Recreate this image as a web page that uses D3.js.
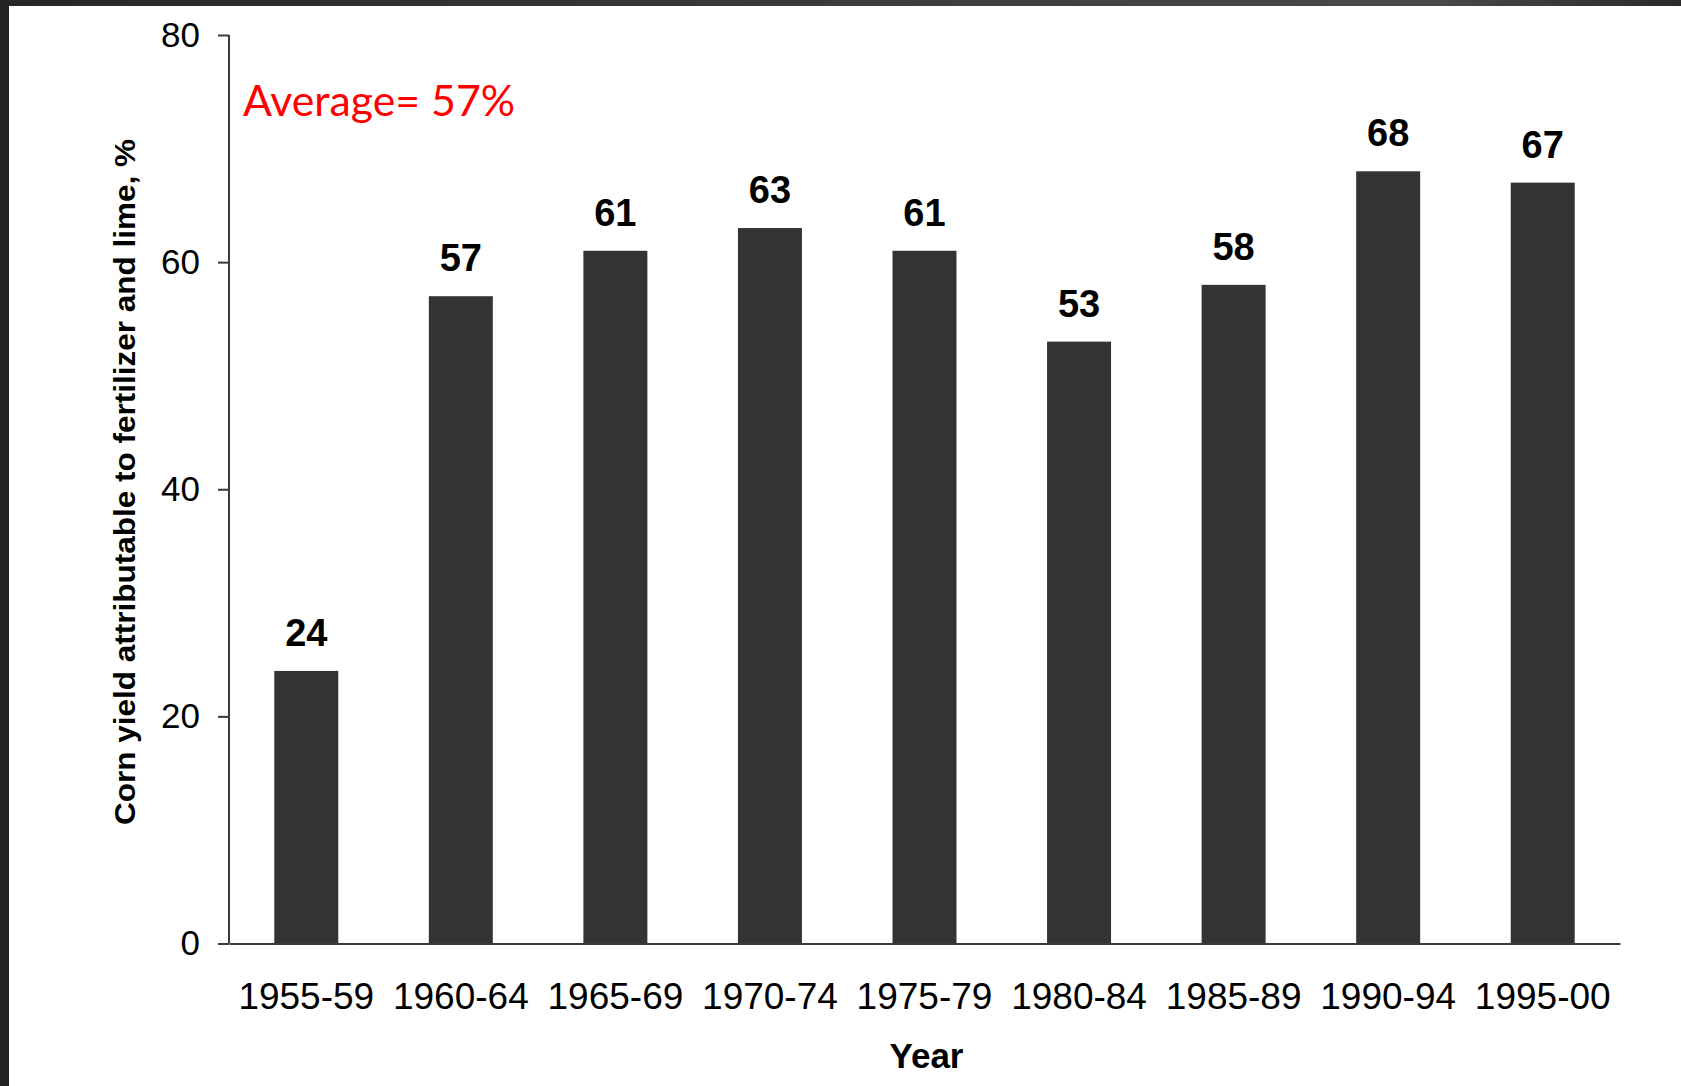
<!DOCTYPE html>
<html>
<head>
<meta charset="utf-8">
<script src="https://cdn.jsdelivr.net/npm/d3@7"></script>
<style>
  html, body { margin: 0; padding: 0; background: #fff; overflow: hidden; }
  svg { display: block; }
</style>
</head>
<body>
<svg id="chart" width="1681" height="1086"></svg>
<script>
// Corn yield share attributable to fertilizer and lime, by five-year period
const periods = ["1955-59", "1960-64", "1965-69", "1970-74", "1975-79", "1980-84", "1985-89", "1990-94", "1995-00"];
const shares = [24, 57, 61, 63, 61, 53, 58, 68, 67];
const yTicks = [0, 20, 40, 60, 80];
const averageNote = "Average= 57%";
const yTitle = "Corn yield attributable to fertilizer and lime, %";
const xTitle = "Year";

const W = 1681, H = 1086;
const plot = { left: 229, right: 1620, top: 35, bottom: 943.5 };

const svg = d3.select("#chart");

// slide frame: dark strip along the top and left edges
const defs = svg.append("defs");
const grad = defs.append("linearGradient").attr("id", "topStrip")
  .attr("x1", "0").attr("x2", "1").attr("y1", "0").attr("y2", "0");
grad.append("stop").attr("offset", "0").attr("stop-color", "#262626");
grad.append("stop").attr("offset", "0.85").attr("stop-color", "#4a4a4a");
grad.append("stop").attr("offset", "1").attr("stop-color", "#2a2a2a");
svg.append("rect").attr("x", 0).attr("y", 0).attr("width", W).attr("height", 6).attr("fill", "url(#topStrip)");
svg.append("rect").attr("x", 0).attr("y", 0).attr("width", 9).attr("height", H).attr("fill", "#232323");

const x = d3.scaleBand()
  .domain(periods)
  .range([plot.left, plot.right])
  .paddingInner(0.586)
  .paddingOuter(0.293);

const y = d3.scaleLinear()
  .domain([0, 80])
  .range([plot.bottom, plot.top]);

// bars
svg.append("g")
  .selectAll("rect")
  .data(periods)
  .join("rect")
  .attr("x", d => x(d))
  .attr("y", (d, i) => y(shares[i]))
  .attr("width", x.bandwidth())
  .attr("height", (d, i) => y(0) - y(shares[i]))
  .attr("fill", "#333333");

// value labels above bars
svg.append("g")
  .selectAll("text")
  .data(periods)
  .join("text")
  .attr("x", d => x(d) + x.bandwidth() / 2)
  .attr("y", (d, i) => y(shares[i]) - 25)
  .attr("text-anchor", "middle")
  .attr("font-family", "'Liberation Sans', Arial, sans-serif")
  .attr("font-weight", "bold")
  .attr("font-size", 38)
  .attr("fill", "#000")
  .text((d, i) => shares[i]);

// y axis
const yAxis = svg.append("g")
  .attr("transform", `translate(${plot.left},0)`)
  .call(d3.axisLeft(y).tickValues(yTicks).tickSize(11).tickPadding(18).tickSizeOuter(0));
yAxis.select(".domain").attr("stroke", "#3a3a3a").attr("stroke-width", 2)
  .attr("d", `M0,${plot.top}V${plot.bottom}`);
yAxis.selectAll(".tick line").attr("stroke", "#3a3a3a").attr("stroke-width", 2);
yAxis.selectAll(".tick text")
  .attr("font-family", "'Liberation Sans', Arial, sans-serif")
  .attr("font-size", 35)
  .attr("fill", "#000");

// x axis
const xAxis = svg.append("g")
  .attr("transform", `translate(0,${plot.bottom})`)
  .call(d3.axisBottom(x).tickSize(0).tickPadding(39).tickSizeOuter(0));
xAxis.select(".domain").attr("stroke", "#3a3a3a").attr("stroke-width", 2);
xAxis.selectAll(".tick text")
  .attr("font-family", "'Liberation Sans', Arial, sans-serif")
  .attr("font-size", 37)
  .attr("fill", "#000")
  .attr("dy", "0.71em");

// axis titles
svg.append("text")
  .attr("x", (plot.left + plot.right) / 2 + 2)
  .attr("y", 1068)
  .attr("text-anchor", "middle")
  .attr("font-family", "'Liberation Sans', Arial, sans-serif")
  .attr("font-weight", "bold")
  .attr("font-size", 35)
  .attr("fill", "#000")
  .text(xTitle);

svg.append("text")
  .attr("transform", "translate(135,482) rotate(-90)")
  .attr("text-anchor", "middle")
  .attr("font-family", "'Liberation Sans', Arial, sans-serif")
  .attr("font-weight", "bold")
  .attr("font-size", 30)
  .attr("textLength", 686)
  .attr("lengthAdjust", "spacingAndGlyphs")
  .attr("fill", "#000")
  .text(yTitle);

// average annotation
svg.append("text")
  .attr("x", 243)
  .attr("y", 116)
  .attr("font-family", "Lato, 'Open Sans', sans-serif")
  .attr("font-size", 43)
  .attr("textLength", 272)
  .attr("lengthAdjust", "spacingAndGlyphs")
  .attr("fill", "#ff0000")
  .text(averageNote);
</script>
</body>
</html>
